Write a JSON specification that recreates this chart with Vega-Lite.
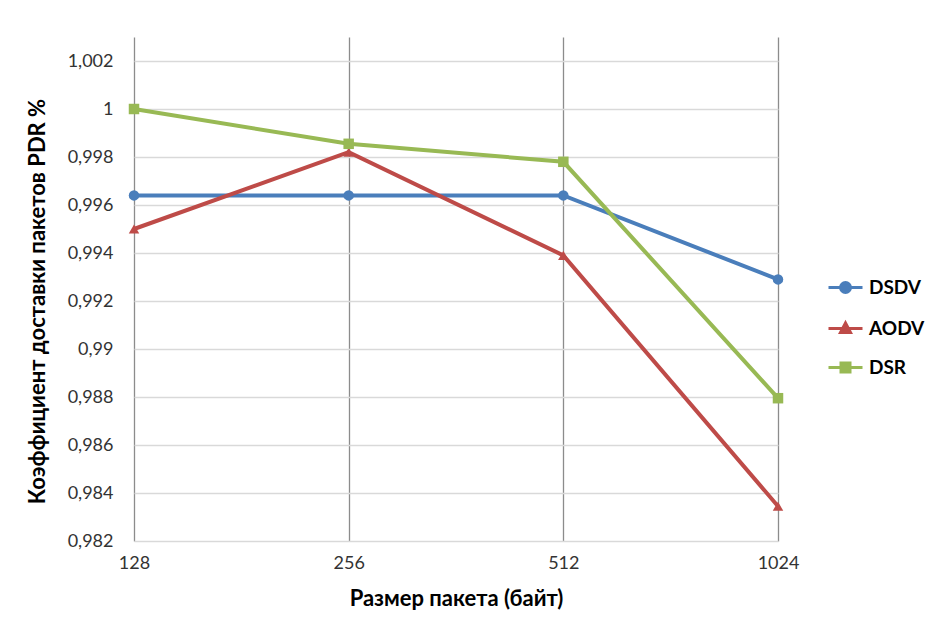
{
  "$schema": "https://vega.github.io/schema/vega-lite/v6.json",
  "autosize": {"type": "none"},
  "padding": {"left": 134, "top": 37, "right": 158, "bottom": 94},
  "width": 644,
  "height": 504,
  "background": "white",
  "config": {
    "font": "Lato",
    "view": {"stroke": null}
  },
  "data": {
    "values": [
      {"size": "128", "protocol": "DSDV", "pdr": 0.9964},
      {"size": "256", "protocol": "DSDV", "pdr": 0.9964},
      {"size": "512", "protocol": "DSDV", "pdr": 0.9964},
      {"size": "1024", "protocol": "DSDV", "pdr": 0.9929},
      {"size": "128", "protocol": "AODV", "pdr": 0.995},
      {"size": "256", "protocol": "AODV", "pdr": 0.9982},
      {"size": "512", "protocol": "AODV", "pdr": 0.9939},
      {"size": "1024", "protocol": "AODV", "pdr": 0.98345},
      {"size": "128", "protocol": "DSR", "pdr": 1.0},
      {"size": "256", "protocol": "DSR", "pdr": 0.99855},
      {"size": "512", "protocol": "DSR", "pdr": 0.9978},
      {"size": "1024", "protocol": "DSR", "pdr": 0.98795}
    ]
  },
  "encoding": {
    "x": {
      "field": "size",
      "type": "ordinal",
      "sort": ["128", "256", "512", "1024"],
      "scale": {"type": "point", "padding": 0},
      "axis": {
        "title": "Размер пакета (байт)",
        "titleFontSize": 22,
        "titleFontWeight": "bold",
        "titleColor": "#000000",
        "titlePadding": 16,
        "labelAngle": 0,
        "labelFontSize": 18,
        "labelColor": "#333333",
        "labelPadding": 13,
        "domain": false,
        "ticks": false,
        "grid": true,
        "gridColor": "#8c8c8c",
        "gridWidth": 1.3
      }
    },
    "y": {
      "field": "pdr",
      "type": "quantitative",
      "scale": {"domain": [0.982, 1.003], "zero": false, "nice": false},
      "axis": {
        "title": "Коэффициент доставки пакетов PDR %",
        "titleFontSize": 22,
        "titleFontWeight": "bold",
        "titleColor": "#000000",
        "titlePadding": 18,
        "titleY": 264,
        "values": [0.982, 0.984, 0.986, 0.988, 0.99, 0.992, 0.994, 0.996, 0.998, 1.0, 1.002],
        "labelExpr": "replace(format(datum.value, '.3~f'), '.', ',')",
        "labelFontSize": 18,
        "labelColor": "#333333",
        "labelPadding": 21,
        "domain": false,
        "ticks": false,
        "grid": true,
        "gridColor": "#d9d9d9",
        "gridWidth": 1.5
      }
    },
    "color": {
      "field": "protocol",
      "type": "nominal",
      "scale": {"domain": ["DSDV", "AODV", "DSR"], "range": ["#4A7EBB", "#BE4B48", "#98B954"]},
      "legend": {
        "title": null,
        "orient": "none",
        "legendX": 690,
        "legendY": 241,
        "padding": 0,
        "symbolSize": 100,
        "symbolOffset": 12,
        "labelOffset": 14,
        "labelFontSize": 19,
        "labelFontWeight": "bold",
        "labelColor": "#000000",
        "rowPadding": 18,
        "symbolStrokeWidth": 3,
        "encode": {
          "symbols": {
            "update": {
              "shape": {"signal": "datum.value === 'DSDV' ? 'M-3.4,0H3.4M-1,0A1,1,0,1,1,1,0A1,1,0,1,1,-1,0Z' : datum.value === 'AODV' ? 'M-3.4,0H3.4M0,-1.1L1,0.8H-1Z' : 'M-3.4,0H3.4M-0.9,-0.9H0.9V0.9H-0.9Z'"},
              "fillOpacity": {"value": 1},
              "strokeWidth": {"value": 3}
            }
          }
        }
      }
    }
  },
  "layer": [
    {
      "mark": {"type": "line", "strokeWidth": 4}
    },
    {
      "transform": [{"filter": "datum.protocol === 'DSDV'"}],
      "mark": {"type": "point", "filled": true, "size": 110, "opacity": 1, "shape": "circle"}
    },
    {
      "transform": [{"filter": "datum.protocol === 'AODV'"}],
      "mark": {"type": "point", "filled": true, "size": 110, "opacity": 1, "shape": "triangle-up"}
    },
    {
      "transform": [{"filter": "datum.protocol === 'DSR'"}],
      "mark": {"type": "point", "filled": true, "size": 110, "opacity": 1, "shape": "square"}
    }
  ]
}
